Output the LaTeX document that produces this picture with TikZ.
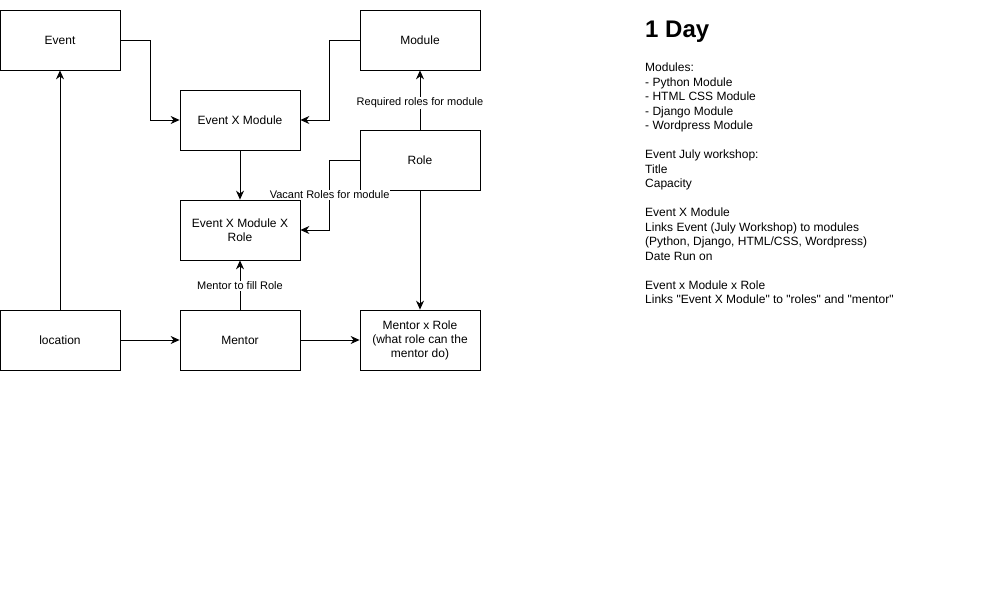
\documentclass[tikz,border=0pt]{standalone}
\usepackage{fontspec}
\setmainfont{Liberation Sans}
\usepackage{tikz}
\usetikzlibrary{arrows.meta, positioning}
\tikzset{
    node distance = 20pt and 60pt,% boxes are 120 x 60, gaps of 60
    entity/.style={rectangle, draw, line width=0.8pt, minimum width=120pt, minimum height=60pt, inner sep=2pt, align=center, font=\fontsize{12}{14}\selectfont},
    link/.style={-{Stealth[length=9pt, width=8pt, inset=3pt]}, line width=0.8pt},
    tag/.style={fill=white, inner sep=1pt, font=\fontsize{11}{13}\selectfont},
}

\begin{document}
\begin{tikzpicture}[x=1pt, y=-1pt]
    \useasboundingbox (0,0) rectangle (1002,601);
    % entities
    \node[entity] (event) at (60,40) {Event};
    \node[entity] (module) at (420,40) {Module};
    \node[entity] (evmod) at (240,120) {Event X Module};
    \node[entity] (role) at (420,160) {Role};
    \node[entity] (evmodrole) at (240,230) {Event X Module X\\Role};
    \node[entity] (location) at (60,340) {location};
    \node[entity] (mentor) at (240,340) {Mentor};
    \node[entity] (mentorrole) at (420,340) {Mentor x Role\\(what role can the\\mentor do)};

    % links
    \draw[link] (event.east) -- ++(30,0) |- (evmod.west);
    \draw[link] (module.west) -- ++(-30,0) |- (evmod.east);
    \draw[link] (role.north) -- (module.south) node[tag, pos=0.45] {Required roles for module};
    \draw[link] (role.west) -- ++(-30,0) |- (evmodrole.east) node[tag, pos=0.25] {Vacant Roles for module};
    \draw[link] (evmod.south) -- (evmodrole.north);
    \draw[link] (mentor.north) -- (evmodrole.south) node[tag, pos=0.48] {Mentor to fill Role};
    \draw[link] (role.south) -- (mentorrole.north);
    \draw[link] (location.north) -- (event.south);
    \draw[link] (location.east) -- (mentor.west);
    \draw[link] (mentor.east) -- (mentorrole.west);

    % notes
    \node[anchor=west, font=\fontsize{24}{28}\bfseries\selectfont, inner sep=0pt] (title) at (645,32) {1 Day};
    \node[anchor=north west, align=left, inner sep=0pt, font=\fontsize{12}{14.5}\selectfont] (notes) at (645,63) {%
        Modules:\\
        - Python Module\\
        - HTML CSS Module\\
        - Django Module\\
        - Wordpress Module\\[14.5pt]
        Event July workshop:\\
        Title\\
        Capacity\\[14.5pt]
        Event X Module\\
        Links Event (July Workshop) to modules\\
        (Python, Django, HTML/CSS, Wordpress)\\
        Date Run on\\[14.5pt]
        Event x Module x Role\\
        Links \textquotedbl Event X Module\textquotedbl{} to \textquotedbl roles\textquotedbl{} and \textquotedbl mentor\textquotedbl};
\end{tikzpicture}
\end{document}
